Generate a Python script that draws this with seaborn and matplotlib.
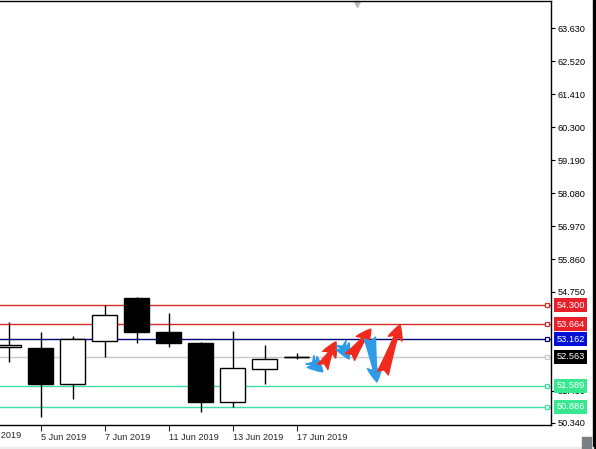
import numpy as np
import pandas as pd
import seaborn as sns
import matplotlib.pyplot as plt
from matplotlib.patches import Rectangle
from matplotlib.transforms import blended_transform_factory

# daily candles (trading days only)
dates = ["4 Jun 2019", "5 Jun 2019", "6 Jun 2019", "7 Jun 2019", "10 Jun 2019",
         "11 Jun 2019", "12 Jun 2019", "13 Jun 2019", "14 Jun 2019", "17 Jun 2019"]
opens = [52.90, 52.87, 51.65, 53.10, 54.55, 53.40, 53.03, 51.05, 52.16, 52.56]
highs = [53.74, 53.40, 53.27, 54.31, 54.58, 54.04, 53.05, 53.44, 52.97, 52.70]
lows = [52.39, 50.54, 51.15, 52.56, 53.03, 52.90, 50.71, 50.88, 51.65, 52.49]
closes = [52.97, 51.65, 53.17, 53.98, 53.40, 53.03, 51.05, 52.19, 52.49, 52.563]

# date labels (every second bar, first one is off screen)
label_pos = [-1, 1, 3, 5, 7, 9]
label_text = ["3 Jun 2019", "5 Jun 2019", "7 Jun 2019", "11 Jun 2019", "13 Jun 2019", "17 Jun 2019"]

# price scale
price_ticks = [63.630, 62.520, 61.410, 60.300, 59.190, 58.080, 56.970, 55.860, 54.750, 51.430, 50.340]

# horizontal levels
levels = [54.300, 53.664, 53.162, 52.563, 51.589, 50.886]
level_line_colors = ["#d42a2a", "#d42a2a", "#00007a", "#c8c8c8", "#40dfa0", "#40dfa0"]
level_box_colors = ["#e8202a", "#e8202a", "#0010d8", "#000000", "#38e890", "#38e890"]

# forecast zigzag arrows: (x0, p0, x1, p1)
arrow_x0 = [9.41, 9.81, 10.38, 10.66, 11.28, 11.69]
arrow_p0 = [52.46, 52.23, 53.03, 52.56, 53.20, 52.02]
arrow_x1 = [9.81, 10.22, 10.63, 11.31, 11.50, 12.22]
arrow_p1 = [52.06, 53.07, 52.49, 53.50, 51.72, 53.64]

df = pd.DataFrame({"date": dates, "open": opens, "high": highs, "low": lows, "close": closes})
df["idx"] = np.arange(len(df))

sns.set_theme(style="white")
plt.rcParams["font.family"] = ["Liberation Sans", "DejaVu Sans"]

fig = plt.figure(figsize=(5.96, 4.49), dpi=100)
ax = fig.add_axes([0.0, 1 - 425 / 449, 551 / 596, 424 / 449])

# wicks
ax.vlines(df["idx"], df["low"], df["high"], color="black", lw=1, zorder=3)
# bodies
up = df["close"] >= df["open"]
body_h = (df["close"] - df["open"]).abs()
body_h = body_h.where(body_h > 0.02, 0.0)
ax.bar(df["idx"], body_h, bottom=df[["open", "close"]].min(axis=1), width=0.78,
       color=np.where(up, "white", "black"), edgecolor="black", lw=1, zorder=4)
# doji as a flat line
for _, r in df[body_h == 0].iterrows():
    ax.hlines(r["close"], r["idx"] - 0.39, r["idx"] + 0.39, color="black", lw=1, zorder=4)

# levels
blend = blended_transform_factory(ax.transAxes, ax.transData)
for lv, lc, bc in zip(levels, level_line_colors, level_box_colors):
    ax.axhline(lv, color=lc, lw=1, zorder=2)
    ax.plot([0.9927], [lv], marker="s", ms=3.5, mfc="white", mec=lc, mew=0.9,
            transform=blend, clip_on=False, zorder=5)
    ax.text(1.0095, lv, "%.3f" % lv, transform=blend, ha="left", va="center",
            fontsize=6.7, color="white", clip_on=False, zorder=6,
            bbox=dict(boxstyle="square,pad=0.28", fc=bc, ec="none"))

# arrows
for x0, p0, x1, p1 in zip(arrow_x0, arrow_p0, arrow_x1, arrow_p1):
    col = "#f02a1c" if p1 > p0 else "#2d9be6"
    ax.annotate("", xy=(x1, p1), xytext=(x0, p0), zorder=7,
                arrowprops=dict(arrowstyle="fancy,head_length=0.7,head_width=0.7,tail_width=0.55",
                                color=col, shrinkA=0, shrinkB=0, mutation_scale=15))

# chart shift marker
ax.plot([10.875], [0.993], marker="v", ms=5, color="#b8b8b8",
        transform=blended_transform_factory(ax.transData, ax.transAxes), clip_on=False)

ax.set_xlim(-0.28, 16.94)
ax.set_ylim(50.27, 64.55)

ax.yaxis.tick_right()
ax.set_yticks(price_ticks)
ax.set_yticklabels(["%.3f" % t for t in price_ticks])
ax.tick_params(axis="y", which="both", right=True, length=3, width=0.8, pad=2,
               labelsize=6.6, colors="black")

ax.set_xticks(label_pos[1:])
ax.set_xticklabels(label_text[1:], ha="left")
ax.tick_params(axis="x", bottom=True, length=4, width=0.8, pad=2, labelsize=6.6)
xblend = blended_transform_factory(ax.transData, ax.transAxes)
ax.text(label_pos[0] - 0.03, -0.015, label_text[0], transform=xblend, ha="left", va="top",
        fontsize=6.6, clip_on=False)

for s in ["top", "right", "bottom"]:
    ax.spines[s].set_color("black")
    ax.spines[s].set_linewidth(1)
ax.spines["left"].set_visible(False)
ax.grid(False)

# window frame bits
fig.patches.append(Rectangle((593 / 596, 0), 3 / 596, 1, transform=fig.transFigure,
                             color="black", zorder=0))
fig.patches.append(Rectangle((0, 0), 593 / 596, 2 / 449, transform=fig.transFigure,
                             color="#ececec", zorder=0))
fig.patches.append(Rectangle((582 / 596, 0), 9 / 596, 12 / 449, transform=fig.transFigure,
                             color="#7a7f86", zorder=0))

fig.savefig("out.png", dpi=100)
